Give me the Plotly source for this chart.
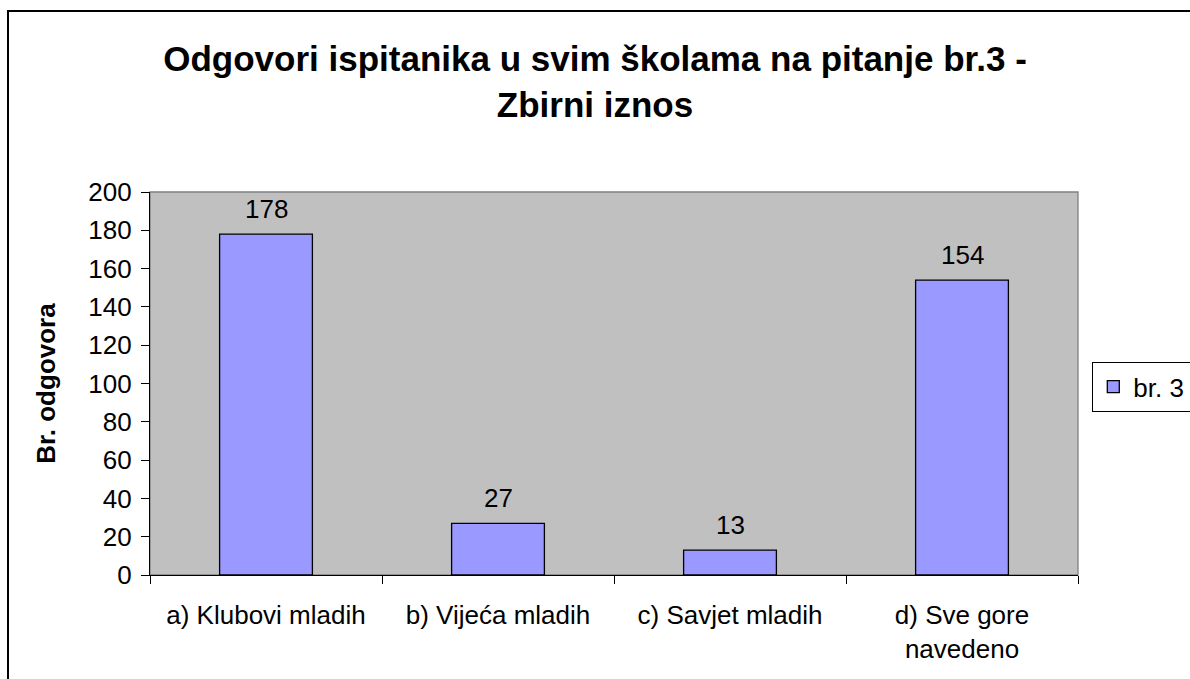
import plotly.graph_objects as go

categories = ["a) Klubovi mladih", "b) Vijeća mladih", "c) Savjet mladih", "d) Sve gore<br>navedeno"]
values = [178, 27, 13, 154]
series_name = "br. 3"
y_ticks = [0, 20, 40, 60, 80, 100, 120, 140, 160, 180, 200]

FONT = "Liberation Sans, Arial, sans-serif"
W, H = 1190, 679
L, R, T, B = 150, 112, 192, 104
pw, ph = W - L - R, H - T - B

fig = go.Figure()
fig.add_trace(go.Bar(
    x=categories, y=values, name=series_name, width=0.4,
    marker=dict(color="#9999FF", line=dict(color="black", width=1.3)),
    showlegend=True,
))

annotations = []
for c, v in zip(categories, values):
    annotations.append(dict(x=c, y=v, xref="x", yref="y", text=str(v), showarrow=False,
                            yshift=25, font=dict(family=FONT, size=26, color="black")))

fig.update_layout(
    width=W, height=H, autosize=False,
    margin=dict(l=L, r=R, t=T, b=B, autoexpand=False),
    paper_bgcolor="white", plot_bgcolor="#C0C0C0",
    font=dict(family=FONT, size=26, color="black"),
    title=dict(text="<b>Odgovori ispitanika u svim školama na pitanje br.3 -<br>Zbirni iznos</b>",
               x=0.5, xref="container", xanchor="center",
               y=1 - 71 / H, yref="container", yanchor="top",
               font=dict(family=FONT, size=35, color="black")),
    xaxis=dict(type="category", range=[-0.5, 3.5], tickson="boundaries", ticks="outside",
               ticklen=8, tickcolor="black", tickwidth=1.3, showline=True, linecolor="black",
               linewidth=1.3, showgrid=False, ticklabelstandoff=17,
               tickfont=dict(size=26, family=FONT, color="black")),
    yaxis=dict(range=[0, 200], tickvals=y_ticks, ticks="outside", ticklen=8, tickcolor="black",
               tickwidth=1.3, showline=True, linecolor="black", linewidth=1.3, showgrid=False,
               zeroline=False, ticklabelstandoff=4,
               tickfont=dict(size=26, family=FONT, color="black"),
               title=dict(text="<b>Br. odgovora</b>", standoff=25,
                          font=dict(size=26, family=FONT, color="black"))),
    legend=dict(x=(1092 - L) / pw, y=(H - B - 362) / ph, xanchor="left", yanchor="top",
                bordercolor="black", borderwidth=1.3, bgcolor="white", entrywidth=110,
                font=dict(size=26, family=FONT, color="black")),
    annotations=annotations,
    shapes=[
        dict(type="rect", xref="paper", yref="paper", x0=0, x1=1, y0=0, y1=1,
             line=dict(color="#808080", width=1.3), layer="below"),
        dict(type="rect", xref="paper", yref="paper",
             x0=(8 - L) / pw, x1=1.4, y0=-0.6, y1=(H - B - 11) / ph,
             line=dict(color="black", width=2)),
    ],
)

fig.write_html("out.html", config={"displayModeBar": False},
               post_script="document.body.style.margin='0';document.body.style.overflow='hidden';")
